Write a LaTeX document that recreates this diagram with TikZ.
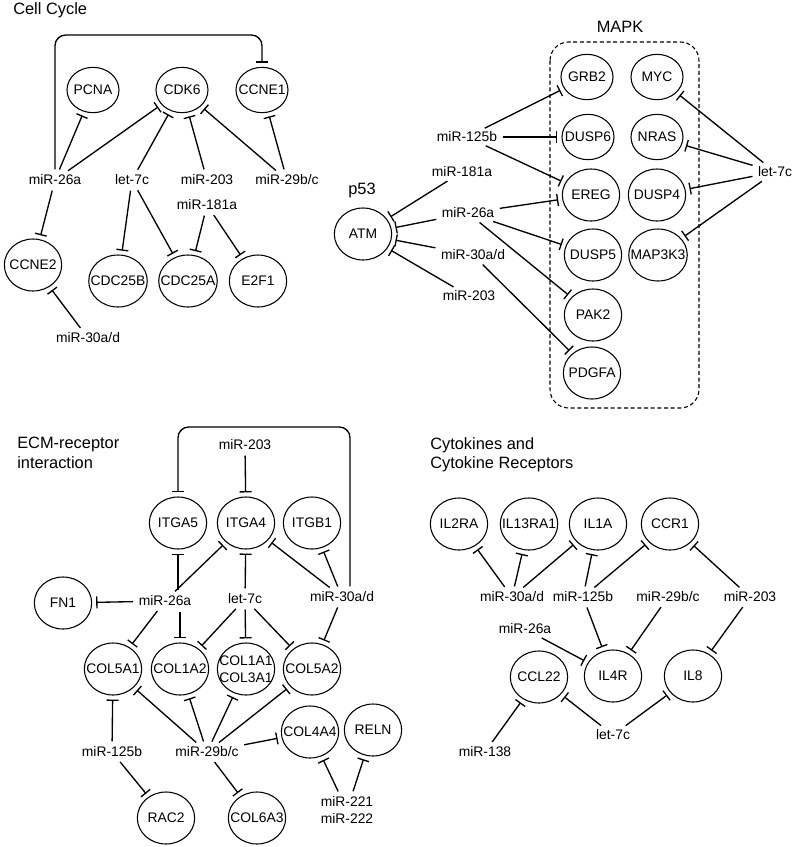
\documentclass[tikz,border=0pt]{standalone}
\usepackage{fontspec}
\setmainfont{Liberation Sans}
\usetikzlibrary{arrows.meta, shapes.geometric}
\newcommand{\genefont}{\fontsize{10.4}{12.4}\selectfont}
\newcommand{\headfont}{\fontsize{12.3}{14.5}\selectfont}

\begin{document}
\begin{tikzpicture}[
  x=0.75pt, y=-0.75pt,
  gene/.style={draw, ellipse, line width=0.8pt, minimum width=43pt, minimum height=39pt,
               inner xsep=-5pt, inner ysep=0pt, font=\genefont, align=center},
  slim/.style={gene, minimum width=39pt, minimum height=34pt},
  mirna/.style={inner sep=1.5pt, font=\genefont, align=center},
  heading/.style={font=\headfont, align=left, inner sep=0pt},
  inh/.style={-{Bar[width=9pt]}, line width=1pt, shorten >=3pt, shorten <=2.5pt},
]
  \useasboundingbox (0,0) rectangle (796,847);

  % Cell Cycle
  \node[heading, anchor=west] (ccT) at (13,10) {Cell Cycle};
  \node[slim] (pcna) at (93,90) {PCNA};
  \node[slim] (cdk6) at (182,90) {CDK6};
  \node[slim] (ccne1) at (262,90) {CCNE1};
  \node[mirna] (ccA) at (55,180) {miR-26a};
  \node[mirna] (ccB) at (132,180) {let-7c};
  \node[mirna] (ccC) at (207,180) {miR-203};
  \node[mirna] (ccD) at (287,180) {miR-29b/c};
  \node[mirna] (ccE) at (207,205) {miR-181a};
  \node[gene] (ccne2) at (33,265) {CCNE2};
  \node[gene] (cdc25b) at (118,281) {CDC25B};
  \node[gene] (cdc25a) at (188,281) {CDC25A};
  \node[gene] (e2f1) at (258,281) {E2F1};
  \node[mirna] (ccF) at (88,338) {miR-30a/d};

  \draw[inh, rounded corners=8pt] (ccA.north) -- (ccA.north |- 0,35) -- (ccne1.north |- 0,35) -- (ccne1.north);
  \draw[inh] (ccA) -- (pcna);
  \draw[inh] (ccA) -- (cdk6);
  \draw[inh] (ccA) -- (ccne2);
  \draw[inh] (ccB) -- (cdk6);
  \draw[inh] (ccB) -- (cdc25b);
  \draw[inh] (ccB) -- (cdc25a);
  \draw[inh] (ccC) -- (cdk6);
  \draw[inh] (ccD) -- (cdk6);
  \draw[inh] (ccD) -- (ccne1);
  \draw[inh] (ccE) -- (cdc25a);
  \draw[inh] (ccE) -- (e2f1);
  \draw[inh] (ccF) -- (ccne2);

  % MAPK and p53
  \node[heading] (mapkT) at (620,27) {MAPK};
  \node[slim] (grb2) at (587,77) {GRB2};
  \node[slim] (myc) at (657,77) {MYC};
  \node[slim] (dusp6) at (588,137) {DUSP6};
  \node[slim] (nras) at (657,137) {NRAS};
  \node[gene] (ereg) at (591,195) {EREG};
  \node[gene] (dusp4) at (657,195) {DUSP4};
  \node[gene] (dusp5) at (593,255) {DUSP5};
  \node[gene] (map3k3) at (658,255) {MAP3K3};
  \node[gene] (pak2) at (593,315) {PAK2};
  \node[gene] (pdgfa) at (592,373) {PDGFA};
  \draw[line width=0.8pt, dash pattern=on 3pt off 2pt, rounded corners=14pt] (550,42) rectangle (699,408);

  \node[heading] (p53T) at (362,190) {p53};
  \node[gene] (atm) at (363,234) {ATM};
  \node[mirna] (mkA) at (467,137) {miR-125b};
  \node[mirna] (mkB) at (462,172) {miR-181a};
  \node[mirna] (mkC) at (468,213) {miR-26a};
  \node[mirna] (mkD) at (473,255) {miR-30a/d};
  \node[mirna] (mkE) at (469,296) {miR-203};
  \node[mirna] (mkF) at (775,172) {let-7c};

  \draw[inh] (mkA) -- (grb2);
  \draw[inh] (mkA) -- (dusp6);
  \draw[inh] (mkA) -- (ereg);
  \draw[inh] (mkB) -- (atm);
  \draw[inh] (mkC) -- (atm);
  \draw[inh] (mkC) -- (ereg);
  \draw[inh] (mkC) -- (dusp5);
  \draw[inh] (mkC) -- (pak2);
  \draw[inh] (mkD) -- (atm);
  \draw[inh] (mkD) -- (pdgfa);
  \draw[inh] (mkE) -- (atm);
  \draw[inh] (mkF) -- (myc);
  \draw[inh] (mkF) -- (nras);
  \draw[inh] (mkF) -- (dusp4);
  \draw[inh] (mkF) -- (map3k3);

  % ECM-receptor interaction
  \node[heading, anchor=west] (ecmT) at (17,453) {ECM-receptor\\interaction};
  \node[mirna] (ecA) at (245,445) {miR-203};
  \node[gene] (itga5) at (178,523) {ITGA5};
  \node[gene] (itga4) at (246,523) {ITGA4};
  \node[gene] (itgb1) at (312,523) {ITGB1};
  \node[gene] (fn1) at (63,603) {FN1};
  \node[mirna] (ecB) at (165,601) {miR-26a};
  \node[mirna] (ecC) at (245,599) {let-7c};
  \node[mirna] (ecD) at (342,597) {miR-30a/d};
  \node[gene] (col5a1) at (113,669) {COL5A1};
  \node[gene] (col1a2) at (180,669) {COL1A2};
  \node[gene] (col1a1) at (246,669) {COL1A1\\COL3A1};
  \node[gene] (col5a2) at (312,669) {COL5A2};
  \node[gene] (col4a4) at (310,732) {COL4A4};
  \node[gene] (reln) at (373,730) {RELN};
  \node[mirna] (ecE) at (112,752) {miR-125b};
  \node[mirna] (ecF) at (207,752) {miR-29b/c};
  \node[gene] (rac2) at (166,818) {RAC2};
  \node[gene] (col6a3) at (257,818) {COL6A3};
  \node[mirna] (ecG) at (347,810) {miR-221\\miR-222};

  \draw[inh, rounded corners=8pt] (ecD.north -| 350,0) -- (350,427) -- (itga5.north |- 0,427) -- (itga5.north);
  \draw[inh] (ecA) -- (itga4);
  \draw[inh] (ecB.north -| itga5) -- (itga5);
  \draw[inh] (ecB) -- (itga4);
  \draw[inh] (ecB) -- (fn1);
  \draw[inh] (ecB) -- (col5a1);
  \draw[inh] (ecB.south -| col1a2) -- (col1a2);
  \draw[inh] (ecC) -- (itga4);
  \draw[inh] (ecC) -- (col1a2);
  \draw[inh] (ecC) -- (col1a1);
  \draw[inh] (ecC) -- (col5a2);
  \draw[inh] (ecD) -- (itga4);
  \draw[inh] (ecD) -- (itgb1);
  \draw[inh] (ecD) -- (col5a2);
  \draw[inh] (ecE) -- (col5a1);
  \draw[inh] (ecE) -- (rac2);
  \draw[inh] (ecF) -- (col5a1);
  \draw[inh] (ecF) -- (col1a2);
  \draw[inh] (ecF) -- (col1a1);
  \draw[inh] (ecF) -- (col5a2);
  \draw[inh] (ecF) -- (col4a4);
  \draw[inh] (ecF) -- (col6a3);
  \draw[inh] (ecG) -- (col4a4);
  \draw[inh] (ecG) -- (reln);

  % Cytokines and Cytokine Receptors
  \node[heading, anchor=west] (cyT) at (430,455) {Cytokines and\\Cytokine Receptors};
  \node[gene] (il2ra) at (459,524) {IL2RA};
  \node[gene] (il13ra1) at (529,524) {IL13RA1};
  \node[gene] (il1a) at (598,524) {IL1A};
  \node[gene] (ccr1) at (670,524) {CCR1};
  \node[mirna] (cyA) at (512,597) {miR-30a/d};
  \node[mirna] (cyB) at (583,597) {miR-125b};
  \node[mirna] (cyC) at (668,597) {miR-29b/c};
  \node[mirna] (cyD) at (750,597) {miR-203};
  \node[mirna] (cyE) at (525,629) {miR-26a};
  \node[gene] (ccl22) at (539,677) {CCL22};
  \node[gene] (il4r) at (613,676) {IL4R};
  \node[gene] (il8) at (693,676) {IL8};
  \node[mirna] (cyF) at (485,752) {miR-138};
  \node[mirna] (cyG) at (613,735) {let-7c};

  \draw[inh] (cyA) -- (il2ra);
  \draw[inh] (cyA) -- (il13ra1);
  \draw[inh] (cyA) -- (il1a);
  \draw[inh] (cyB) -- (il1a);
  \draw[inh] (cyB) -- (ccr1);
  \draw[inh] (cyB) -- (il4r);
  \draw[inh] (cyC) -- (il4r);
  \draw[inh] (cyD) -- (ccr1);
  \draw[inh] (cyD) -- (il8);
  \draw[inh] (cyE) -- (il4r);
  \draw[inh] (cyF) -- (ccl22);
  \draw[inh] (cyG) -- (ccl22);
  \draw[inh] (cyG) -- (il8);
\end{tikzpicture}
\end{document}
